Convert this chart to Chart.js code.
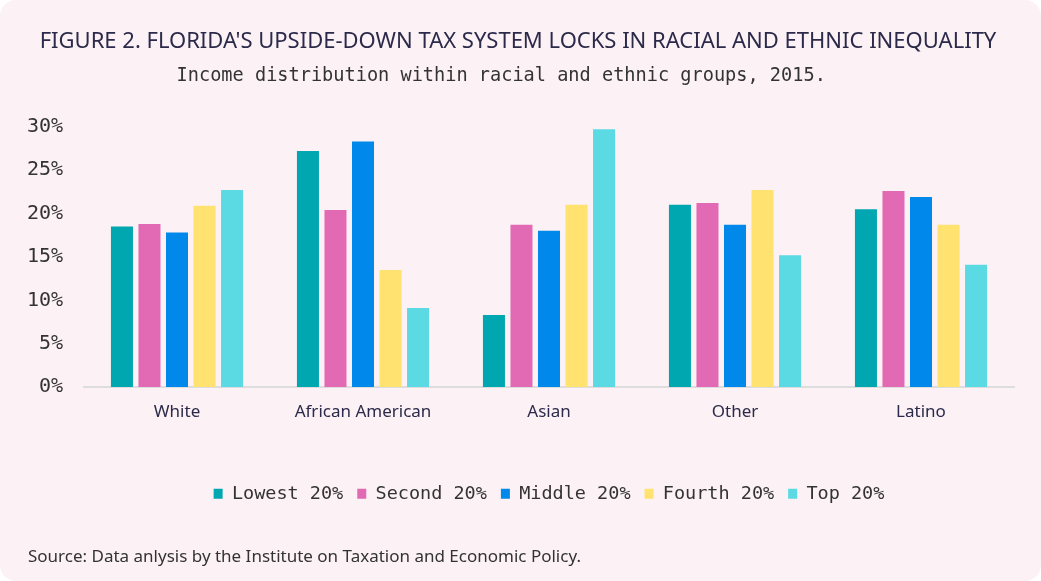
<!DOCTYPE html>
<html>
<head>
<meta charset="utf-8">
<script src="https://cdn.jsdelivr.net/npm/chart.js@4"></script>
<style>
  html, body { margin: 0; padding: 0; background: #ffffff; }
  #card {
    position: relative;
    width: 1041px;
    height: 581px;
    background: #fcf1f4;
    border-radius: 16px;
    overflow: hidden;
  }
  #source {
    position: absolute;
    left: 28px;
    top: 544px;
    font-family: "Noto Sans", sans-serif;
    font-size: 17px;
    color: #333333;
  }
</style>
</head>
<body>
<div id="card">
  <canvas id="taxChart"></canvas>
  <div id="source">Source: Data anlysis by the Institute on Taxation and Economic Policy.</div>
</div>
<script>
// groups and quintile shares (%)
const groups = ["White", "African American", "Asian", "Other", "Latino"];
const lowest = [18.5, 27.2, 8.3, 21.0, 20.5];
const second = [18.8, 20.4, 18.7, 21.2, 22.6];
const middle = [17.8, 28.3, 18.0, 18.7, 21.9];
const fourth = [20.9, 13.5, 21.0, 22.7, 18.7];
const top20 = [22.7, 9.1, 29.7, 15.2, 14.1];
const seriesNames = ["Lowest 20%", "Second 20%", "Middle 20%", "Fourth 20%", "Top 20%"];
const seriesColors = ["#00a6b0", "#e26ab4", "#0089ea", "#ffe270", "#5bdae4"];

const mono = "'DejaVu Sans Mono', 'Liberation Mono', monospace";
const sans = "'Noto Sans', sans-serif";

const ctx = document.getElementById("taxChart").getContext("2d");
new Chart(ctx, {
  type: "bar",
  data: {
    labels: groups,
    datasets: [lowest, second, middle, fourth, top20].map((vals, i) => ({
      label: seriesNames[i],
      data: vals,
      backgroundColor: seriesColors[i],
      borderWidth: 0,
      categoryPercentage: 0.74,
      barPercentage: 0.8,
    })),
  },
  options: {
    responsive: true,
    maintainAspectRatio: false,
    animation: false,
    layout: {
      padding: { left: 22, right: 27, top: 22, bottom: 68 },
    },
    plugins: {
      title: {
        display: true,
        text: "FIGURE 2. FLORIDA'S UPSIDE-DOWN TAX SYSTEM LOCKS IN RACIAL AND ETHNIC INEQUALITY",
        color: "#2b2a4a",
        font: { family: sans, size: 22, weight: "normal" },
        padding: { top: 7, bottom: 5 },
      },
      subtitle: {
        display: true,
        // trailing spaces nudge it left like the original
        text: "Income distribution within racial and ethnic groups, 2015.   ",
        color: "#333333",
        font: { family: mono, size: 18.6 },
        padding: { top: 5, bottom: 39 },
      },
      legend: {
        position: "bottom",
        fullSize: false,
        labels: {
          boxWidth: 9,
          boxHeight: 10,
          padding: 14,
          color: "#333333",
          font: { family: mono, size: 18.5 },
        },
      },
      tooltip: { enabled: false },
    },
    scales: {
      x: {
        grid: { display: false, drawTicks: false },
        border: { display: true, color: "#dddddd", width: 2 },
        ticks: {
          color: "#2b2a4a",
          font: { family: sans, size: 17 },
          padding: 15,
        },
        afterFit: (scale) => { scale.height += 33; },
      },
      y: {
        min: 0,
        max: 30,
        grid: { display: false, drawTicks: false },
        border: { display: false },
        ticks: {
          stepSize: 5,
          color: "#333333",
          padding: 21,
          font: { family: mono, size: 20 },
          callback: (v) => v + "%",
        },
        afterFit: (scale) => { scale.width = 62; },
      },
    },
  },
});
</script>
</body>
</html>
